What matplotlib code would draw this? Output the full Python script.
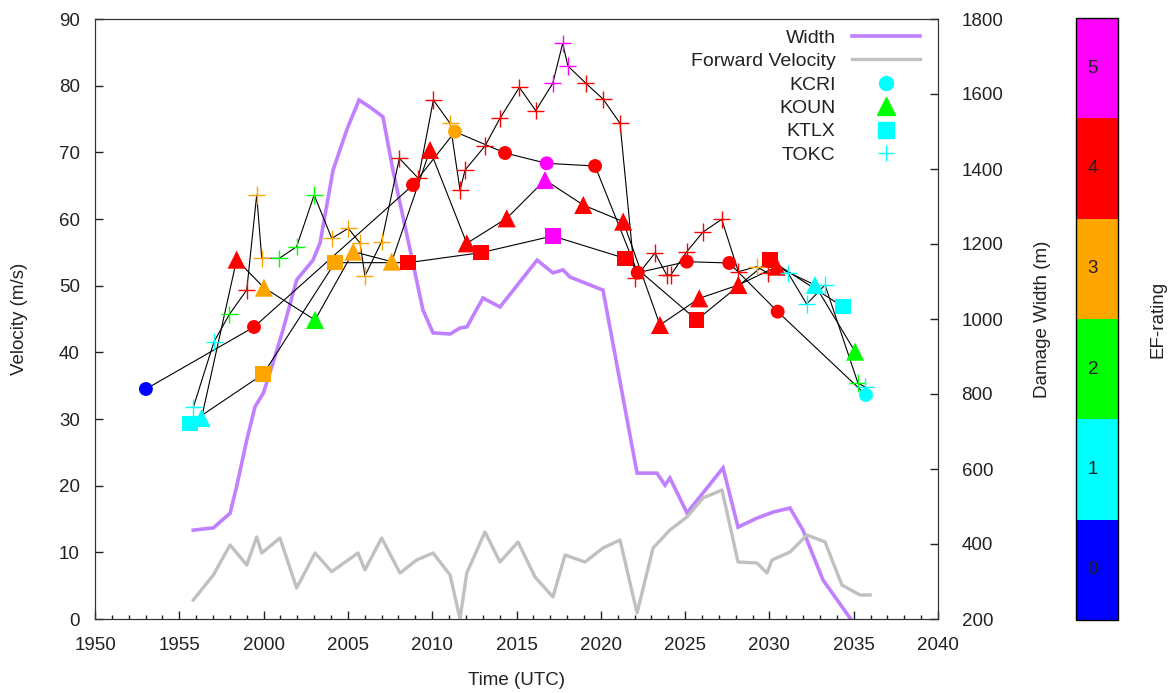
import matplotlib.pyplot as plt
from matplotlib.colors import ListedColormap, BoundaryNorm
from matplotlib.cm import ScalarMappable
from matplotlib.lines import Line2D
from matplotlib.ticker import MultipleLocator

plt.rcParams['font.family'] = ['Liberation Sans', 'DejaVu Sans']
plt.rcParams['font.size'] = 13.5
plt.rcParams['text.color'] = '#222222'
plt.rcParams['axes.labelcolor'] = '#222222'
plt.rcParams['xtick.color'] = '#222222'
plt.rcParams['ytick.color'] = '#222222'

# time axis: minutes after 19:50 UTC, labelled as HHMM
time_ticks = [0, 5, 10, 15, 20, 25, 30, 35, 40, 45, 50]
time_labels = ['1950', '1955', '2000', '2005', '2010', '2015', '2020',
               '2025', '2030', '2035', '2040']

ef_colors = ['#0000ff', '#00ffff', '#00ff00', '#ffa500', '#ff0000', '#ff00ff']
ef_levels = [0, 1, 2, 3, 4, 5]

# damage width (m)
width_t = [5.83, 7.02, 8.01, 8.40, 9.0, 9.49, 9.98, 10.56, 11.15, 11.96, 12.93,
           13.35, 14.12, 14.93, 15.66, 16.31, 17.08, 17.67, 18.27, 18.86, 19.45,
           20.05, 21.06, 21.65, 22.06, 23.01, 24.02, 26.22, 27.16, 27.76, 28.17,
           30.13, 32.15, 33.33, 33.81, 34.1, 35.11, 36.06, 37.25, 38.14, 39.26,
           40.21, 41.22, 41.99, 43.18, 44.9]
width_m = [437, 443, 482, 553, 677, 766, 802, 883, 971, 1104, 1157,
           1203, 1397, 1504, 1584, 1565, 1539, 1397, 1272, 1149, 1024,
           963, 960, 976, 979, 1056, 1032, 1157, 1123, 1131, 1112,
           1077, 589, 589, 557, 576, 483, 536, 603, 445, 469,
           485, 496, 437, 304, 195]

# forward velocity (m/s)
fwd_t = [5.83, 7.02, 8.01, 9.0, 9.59, 9.89, 10.97, 11.96, 13.05, 14.04, 15.6,
         16.01, 17.0, 18.09, 19.08, 20.05, 21.06, 21.65, 22.05, 23.13, 24.02,
         25.09, 26.1, 27.16, 27.88, 29.06, 30.13, 31.14, 32.15, 33.1, 34.1,
         35.11, 36.06, 37.19, 38.14, 39.26, 39.86, 40.15, 41.22, 42.23, 43.3,
         44.3, 45.37, 45.97]
fwd_v = [2.85, 6.6, 11.1, 8.1, 12.3, 9.9, 12.15, 4.65, 9.9, 7.1, 9.9,
         7.35, 12.15, 6.9, 8.85, 9.9, 6.6, 0.0, 6.9, 13.05, 8.55,
         11.55, 6.3, 3.3, 9.6, 8.55, 10.65, 11.85, 0.9, 10.65, 13.35,
         15.3, 18.15, 19.35, 8.55, 8.4, 6.9, 8.85, 10.05, 12.6, 11.55,
         5.1, 3.6, 3.6]

# radar velocities (m/s) and EF rating
kcri_t = [3.02, 9.43, 18.86, 21.35, 24.32, 26.79, 29.66, 32.19, 35.1, 37.62, 40.49, 45.73]
kcri_v = [34.5, 43.8, 65.1, 73.1, 69.9, 68.35, 67.95, 51.95, 53.6, 53.4, 46.1, 33.6]
kcri_ef = [0, 4, 4, 3, 4, 5, 4, 4, 4, 4, 4, 1]

koun_t = [6.32, 8.4, 10.02, 13.05, 15.32, 17.6, 19.87, 22.05, 24.42, 26.69, 28.96,
          31.33, 33.51, 35.84, 38.16, 40.43, 42.7, 45.08]
koun_v = [30.15, 53.9, 49.7, 44.85, 55.1, 53.6, 70.35, 56.35, 60.1, 65.85, 62.1,
          59.6, 44.1, 48.1, 50.1, 52.85, 50.1, 40.1]
koun_ef = [1, 4, 3, 2, 3, 3, 4, 4, 4, 5, 4, 4, 4, 4, 4, 4, 1, 2]

ktlx_t = [5.63, 9.98, 14.23, 18.58, 22.89, 27.15, 31.43, 35.69, 40.04, 44.35]
ktlx_v = [29.35, 36.75, 53.45, 53.45, 54.95, 57.45, 54.1, 44.85, 53.85, 46.85]
ktlx_ef = [1, 3, 3, 4, 4, 5, 4, 4, 4, 1]

tokc_t = [5.83, 7.06, 7.97, 9.0, 9.59, 9.89, 10.93, 11.96, 13.0, 14.04, 15.02,
          15.72, 16.01, 17.0, 18.05, 19.18, 20.07, 21.06, 21.65, 21.95, 23.13,
          24.02, 25.17, 26.14, 27.15, 27.74, 28.05, 29.12, 30.15, 31.14, 32.03,
          33.21, 33.91, 34.15, 35.1, 36.06, 37.17, 38.16, 39.25, 39.93, 41.12,
          42.21, 43.3, 45.25, 45.67]
tokc_v = [31.75, 41.6, 45.7, 49.35, 63.6, 54.1, 54.1, 55.85, 63.6, 57.1, 58.6,
          56.4, 51.45, 56.6, 69.1, 66.1, 77.85, 74.35, 64.35, 67.35, 70.95,
          75.1, 79.75, 76.25, 80.35, 86.35, 82.95, 80.35, 77.95, 74.35, 51.1,
          54.9, 51.6, 51.6, 55.1, 58.05, 59.95, 52.1, 52.85, 51.85, 51.85,
          47.25, 50.1, 35.4, 34.8]
tokc_ef = [1, 1, 2, 4, 3, 3, 2, 2, 2, 3, 3,
           3, 3, 3, 4, 4, 4, 3, 4, 4, 4,
           4, 4, 4, 5, 5, 5, 4, 4, 4, 4,
           4, 4, 4, 4, 4, 4, 4, 3, 4, 1,
           1, 1, 2, 1]

fig = plt.figure(figsize=(11.75, 6.93), dpi=100)
ax = fig.add_axes([95 / 1175, 74 / 693, 843 / 1175, 600 / 693])
ax2 = ax.twinx()
ax.set_zorder(ax2.get_zorder() + 1)
ax.patch.set_visible(False)

ax2.plot(width_t, width_m, color='#c080ff', lw=2.6, solid_joinstyle='miter')
ax.plot(fwd_t, fwd_v, color='#c0c0c0', lw=2.4)

radars = [
    (kcri_t, kcri_v, kcri_ef, 'o', 100, 'KCRI'),
    (koun_t, koun_v, koun_ef, '^', 170, 'KOUN'),
    (ktlx_t, ktlx_v, ktlx_ef, 's', 125, 'KTLX'),
    (tokc_t, tokc_v, tokc_ef, '+', 150, 'TOKC'),
]
for t, v, ef, mk, sz, name in radars:
    ax.plot(t, v, color='black', lw=0.8, zorder=2)
    cols = [ef_colors[e] for e in ef]
    if mk == '+':
        ax.scatter(t, v, s=sz, c=cols, marker=mk, linewidths=1, zorder=3)
    else:
        ax.scatter(t, v, s=sz, c=cols, marker=mk, linewidths=0, zorder=3)

ax.set_xlim(0, 50)
ax.set_ylim(0, 90)
ax2.set_ylim(200, 1800)
ax.set_xticks(time_ticks)
ax.set_xticklabels(time_labels)
ax.xaxis.set_minor_locator(MultipleLocator(1))
ax.set_yticks(range(0, 91, 10))
ax2.set_yticks(range(200, 1801, 200))

ax.tick_params(axis='x', which='both', direction='in', top=False, pad=13)
ax.tick_params(axis='y', which='both', direction='in', right=False, pad=11)
ax.tick_params(which='major', length=6, width=1)
ax.tick_params(which='minor', length=3, width=1)
ax2.tick_params(axis='y', direction='in', length=6, width=1, pad=17)
for a in (ax, ax2):
    for s in a.spines.values():
        s.set_color('#333333')

ax.set_xlabel('Time (UTC)', labelpad=13)
ax.set_ylabel('Velocity (m/s)', labelpad=22)
ax2.set_ylabel('Damage Width (m)', labelpad=22)

handles = [
    Line2D([], [], color='#c080ff', lw=2.6),
    Line2D([], [], color='#c0c0c0', lw=2.4),
    Line2D([], [], color='#00ffff', marker='o', ls='none', markersize=10),
    Line2D([], [], color='#00ff00', marker='^', ls='none', markersize=13),
    Line2D([], [], color='#00ffff', marker='s', ls='none', markersize=11),
    Line2D([], [], color='#00ffff', marker='+', ls='none', markersize=12, markeredgewidth=1),
]
labels = ['Width', 'Forward Velocity', 'KCRI', 'KOUN', 'KTLX', 'TOKC']
ax.legend(handles, labels, loc='upper right', markerfirst=False, frameon=False,
          bbox_to_anchor=((920 - 95) / 843, (619 - 29) / 600),
          borderaxespad=0, borderpad=0, handlelength=3.5, handletextpad=0.85,
          labelspacing=0.3, fontsize=14)

# EF-rating colour bar
cax = fig.add_axes([1076 / 1175, 73 / 693, 42 / 1175, 602 / 693])
cmap = ListedColormap(ef_colors)
norm = BoundaryNorm([0, 1, 2, 3, 4, 5, 6], cmap.N)
cb = fig.colorbar(ScalarMappable(norm=norm, cmap=cmap), cax=cax, ticks=[])
cb.outline.set_linewidth(1)
cax.minorticks_off()
cax.tick_params(which='both', length=0)
for lev in ef_levels:
    cax.text(0.4, lev + 0.5, str(lev), ha='center', va='center', transform=cax.transData)
cax.set_xlim(0, 1)
cb.set_label('EF-rating', labelpad=23)

fig.savefig('out.png', dpi=100)
